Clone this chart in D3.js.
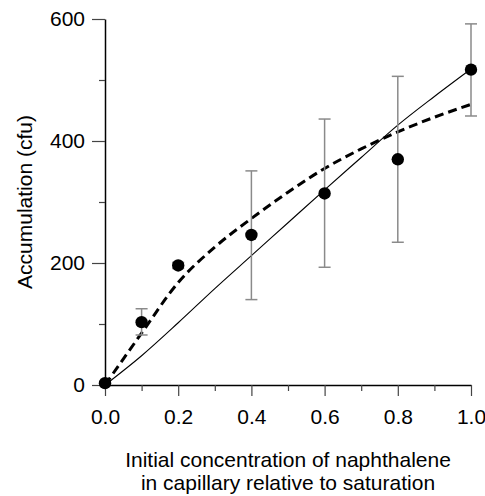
<!DOCTYPE html>
<html>
<head>
<meta charset="utf-8">
<script src="https://cdn.jsdelivr.net/npm/d3@7/dist/d3.min.js"></script>
<style>
  body { margin: 0; background: #fff; }
  svg { display: block; font-family: "Liberation Sans", Arial, sans-serif; }
</style>
</head>
<body>
<div id="chart"></div>
<script>
// measured points (mean, error bar low/high)
const conc = [0.0, 0.1, 0.2, 0.4, 0.6, 0.8, 1.0];
const accum = [3, 103, 196, 246, 314, 370, 517];
const errLow = [3, 82, 191, 140, 193, 234, 441];
const errHigh = [3, 125, 201, 351, 436, 506, 592];

// model curves
const modelX = [0.0, 0.1, 0.2, 0.3, 0.4, 0.5, 0.6, 0.7, 0.8, 0.9, 1.0];
const solidY = [0, 48, 102, 158, 212, 266, 320, 373, 426, 473, 518];
const dashedY = [0, 85, 168, 226, 273, 316, 355, 387, 415, 439, 460];

const xMajor = [0, 0.2, 0.4, 0.6, 0.8, 1.0];
const xMinor = [0.1, 0.3, 0.5, 0.7, 0.9];
const yMajor = [0, 200, 400, 600];
const yMinor = [100, 300, 500];

const width = 485, height = 496;
const margin = {top: 19, right: 14, bottom: 111, left: 105};

const svg = d3.select("#chart").append("svg")
    .attr("width", width)
    .attr("height", height);

const x = d3.scaleLinear().domain([0, 1]).range([margin.left, width - margin.right]);
const y = d3.scaleLinear().domain([0, 600]).range([height - margin.bottom, margin.top]);

const fontSize = 21;

// x axis
const xAxis = svg.append("g")
    .attr("transform", `translate(0,${y(0)})`)
    .call(d3.axisBottom(x).tickValues(xMajor).tickSize(11).tickPadding(13)
        .tickSizeOuter(0).tickFormat(d3.format(".1f")));
svg.append("g")
    .attr("transform", `translate(0,${y(0)})`)
    .call(d3.axisBottom(x).tickValues(xMinor).tickSize(6).tickFormat(""))
    .call(g => g.select(".domain").remove());

// y axis
const yAxis = svg.append("g")
    .attr("transform", `translate(${x(0)},0)`)
    .call(d3.axisLeft(y).tickValues(yMajor).tickSize(13).tickPadding(7)
        .tickSizeOuter(0).tickFormat(d3.format("d")));
svg.append("g")
    .attr("transform", `translate(${x(0)},0)`)
    .call(d3.axisLeft(y).tickValues(yMinor).tickSize(6).tickFormat(""))
    .call(g => g.select(".domain").remove());

svg.selectAll(".domain").attr("stroke", "#000").attr("stroke-width", 1.5);
svg.selectAll(".tick line").attr("stroke", "#444").attr("stroke-width", 1.2);
svg.selectAll(".tick text")
    .attr("font-size", fontSize)
    .attr("font-family", "Liberation Sans, Arial, sans-serif")
    .attr("fill", "#000");

// axis titles
svg.append("text")
    .attr("transform", `translate(32,${(y(0) + y(600)) / 2}) rotate(-90)`)
    .attr("text-anchor", "middle")
    .attr("font-size", fontSize)
    .text("Accumulation (cfu)");

const midX = (x(0) + x(1)) / 2;
svg.append("text")
    .attr("x", midX).attr("y", 467)
    .attr("text-anchor", "middle")
    .attr("font-size", fontSize)
    .text("Initial concentration of naphthalene");
svg.append("text")
    .attr("x", midX).attr("y", 490)
    .attr("text-anchor", "middle")
    .attr("font-size", fontSize)
    .text("in capillary relative to saturation");

// model lines
const line = d3.line().curve(d3.curveMonotoneX);

svg.append("path")
    .attr("d", line(modelX.map((v, i) => [x(v), y(solidY[i])])))
    .attr("fill", "none")
    .attr("stroke", "#000")
    .attr("stroke-width", 1.1);

svg.append("path")
    .attr("d", line(modelX.map((v, i) => [x(v), y(dashedY[i])])))
    .attr("fill", "none")
    .attr("stroke", "#000")
    .attr("stroke-width", 3)
    .attr("stroke-dasharray", "9,5");

// error bars
const capW = 6;
const bars = svg.append("g").attr("stroke", "#8a8a8a").attr("stroke-width", 1.5);
conc.forEach((c, i) => {
    if (errHigh[i] - errLow[i] < 1) return;
    bars.append("line")
        .attr("x1", x(c)).attr("x2", x(c))
        .attr("y1", y(errLow[i])).attr("y2", y(errHigh[i]));
    [errLow[i], errHigh[i]].forEach(v => {
        bars.append("line")
            .attr("x1", x(c) - capW).attr("x2", x(c) + capW)
            .attr("y1", y(v)).attr("y2", y(v));
    });
});

// points
svg.append("g").selectAll("circle")
    .data(conc)
    .join("circle")
    .attr("cx", d => x(d))
    .attr("cy", (d, i) => y(accum[i]))
    .attr("r", 6.2)
    .attr("fill", "#000");
</script>
</body>
</html>
